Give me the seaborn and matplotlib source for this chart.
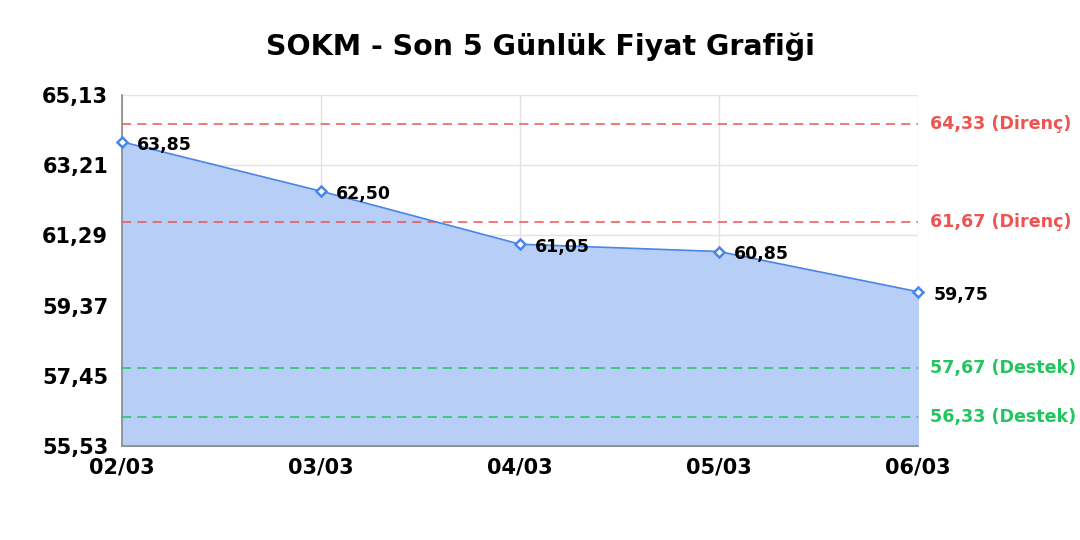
import numpy as np
import matplotlib
matplotlib.use('Agg')
import matplotlib.pyplot as plt
import matplotlib.transforms as mtransforms
import pandas as pd
import seaborn as sns

# data
dates = ['02/03', '03/03', '04/03', '05/03', '06/03']
prices = [63.85, 62.50, 61.05, 60.85, 59.75]
resistance = [64.33, 61.67]
support = [57.67, 56.33]
yticks = [55.53, 57.45, 59.37, 61.29, 63.21, 65.13]

df = pd.DataFrame({'pos': range(len(dates)), 'price': prices})

sns.set_style('white')
plt.rcParams['font.family'] = 'sans-serif'
plt.rcParams['font.sans-serif'] = ['DejaVu Sans']

def fmt(v):
    return f'{v:.2f}'.replace('.', ',')

fig = plt.figure(figsize=(10.8, 5.4), dpi=100)
ax = fig.add_axes([0.113, 0.174, 0.737, 0.650])

line_col = '#4a86e8'
ax.fill_between(df['pos'], df['price'], yticks[0], color='#b7cff7', zorder=1)
sns.lineplot(data=df, x='pos', y='price', ax=ax, color=line_col, linewidth=1.2,
             marker='D', markersize=5.5, markerfacecolor='white',
             markeredgecolor=line_col, markeredgewidth=1.8, zorder=4, clip_on=False)

for p, v in zip(df['pos'], prices):
    ax.annotate(fmt(v), (p, v), xytext=(11, -2),
                textcoords='offset points', ha='left', va='center',
                fontsize=12.5, fontweight='bold', color='black', zorder=5)

trans = mtransforms.blended_transform_factory(ax.transAxes, ax.transData)
for v in resistance:
    ax.axhline(v, color='#ef5350', linestyle=(0, (6, 4)), linewidth=1.1, zorder=3)
    ax.text(1.015, v, fmt(v) + ' (Direnç)', transform=trans,
            ha='left', va='center', fontsize=12.6, fontweight='bold', color='#ef5350')
for v in support:
    ax.axhline(v, color='#22c55e', linestyle=(0, (6, 4)), linewidth=1.1, zorder=3)
    ax.text(1.015, v, fmt(v) + ' (Destek)', transform=trans,
            ha='left', va='center', fontsize=12.6, fontweight='bold', color='#22c55e')

ax.set_xlim(0, len(dates) - 1)
ax.set_ylim(yticks[0], yticks[-1])
ax.set_xticks(range(len(dates)))
ax.set_xticklabels(dates, fontsize=15, fontweight='bold', color='black')
ax.set_yticks(yticks)
ax.set_yticklabels([fmt(t) for t in yticks], fontsize=15, fontweight='bold', color='black')
ax.set_xlabel('')
ax.set_ylabel('')
ax.tick_params(axis='x', length=0, pad=8)
ax.tick_params(axis='y', length=0, pad=10)
ax.grid(True, color='#e3e3e3', linewidth=1, zorder=0)
ax.set_axisbelow(True)
for s in ['top', 'right']:
    ax.spines[s].set_visible(False)
for s in ['left', 'bottom']:
    ax.spines[s].set_color('#888888')
    ax.spines[s].set_linewidth(1.2)

fig.suptitle('SOKM - Son 5 Günlük Fiyat Grafiği', fontsize=20.5, fontweight='bold',
             color='black', y=0.94)

fig.savefig('out.png', dpi=100)
